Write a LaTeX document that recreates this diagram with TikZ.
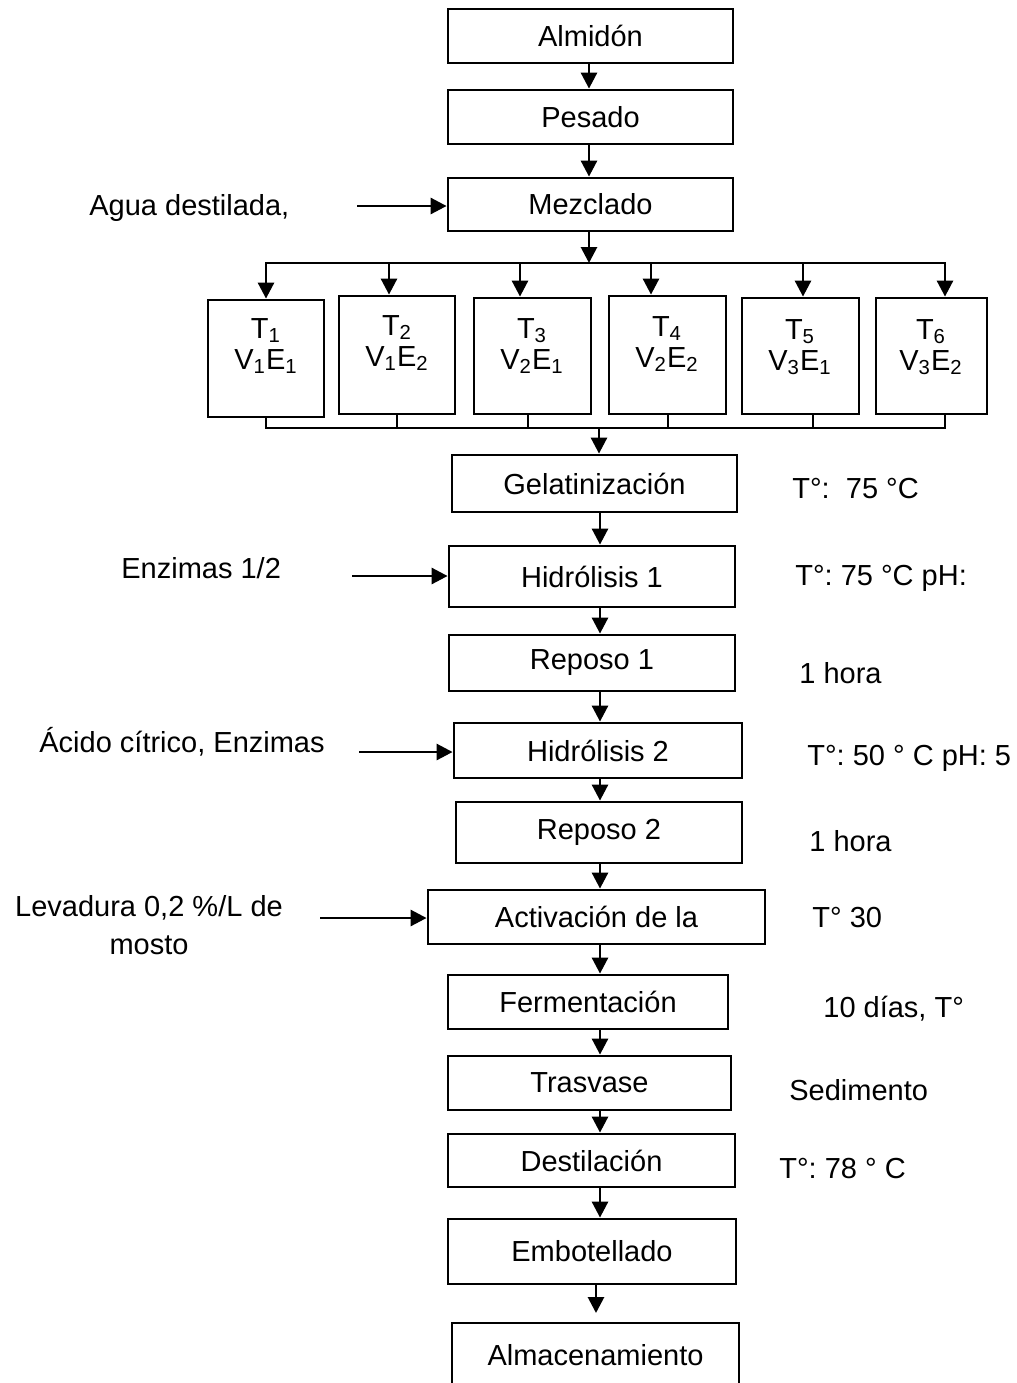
\documentclass[tikz,border=0pt]{standalone}
\usepackage{fontspec}
\setmainfont{Liberation Sans}
\usetikzlibrary{arrows.meta,calc}
\newcommand{\pbox}[6]{\node[proc, minimum width={(#4-#2)*0.5pt}, minimum height={(#5-#3)*0.5pt}] (#1) at ({(#2+#4)/2},{(#3+#5)/2}) {#6};}
\frenchspacing
\begin{document}
\frenchspacing
\begin{tikzpicture}[x=0.5pt,y=-0.5pt,
  every node/.style={font=\fontsize{14.5}{17}\selectfont\frenchspacing},
  proc/.style={draw, line width=1.4pt, inner sep=0pt, align=center},
  ttxt/.style={align=center, inner sep=0pt, font=\fontsize{14.5}{15.5}\selectfont},
  arr/.style={line width=1.4pt, -{Triangle[length=8pt,width=8pt]}},
  ln/.style={line width=1.4pt, line cap=rect},
  lbl/.style={anchor=base west, inner sep=0pt},
]
\fill[white] (0,0) rectangle (1017,1383);
\useasboundingbox (0,0) rectangle (1017,1383);
\clip (0,0) rectangle (1017,1383);

% main boxes
\pbox{alm}{448}{9}{733}{63}{Almidón}
\pbox{pes}{448}{90}{733}{144}{Pesado}
\pbox{mez}{448}{178}{733}{231}{Mezclado}

\pbox{t1}{208}{300}{324}{417}{}
\pbox{t2}{339}{296}{455}{414}{}
\pbox{t3}{474}{298}{591}{414}{}
\pbox{t4}{609}{296}{726}{414}{}
\pbox{t5}{742}{298}{859}{414}{}
\pbox{t6}{876}{298}{987}{414}{}
\node[ttxt] (t1l) at (266,346) {T\textsubscript{1}\\V\textsubscript{1}E\textsubscript{1}};
\node[ttxt] (t2l) at (397,343) {T\textsubscript{2}\\V\textsubscript{1}E\textsubscript{2}};
\node[ttxt] (t3l) at (532,346) {T\textsubscript{3}\\V\textsubscript{2}E\textsubscript{1}};
\node[ttxt] (t4l) at (667,344) {T\textsubscript{4}\\V\textsubscript{2}E\textsubscript{2}};
\node[ttxt] (t5l) at (800,347) {T\textsubscript{5}\\V\textsubscript{3}E\textsubscript{1}};
\node[ttxt] (t6l) at (931,347) {T\textsubscript{6}\\V\textsubscript{3}E\textsubscript{2}};

\pbox{gel}{452}{455}{737}{512}{Gelatinización}
\pbox{hid1}{449}{546}{735}{607}{Hidrólisis 1}
\pbox{rep1}{449}{635}{735}{691}{Reposo 1}
\pbox{hid2}{454}{723}{742}{778}{Hidrólisis 2}
\pbox{rep2}{456}{802}{742}{863}{Reposo 2}
\pbox{act}{428}{890}{765}{944}{Activación de la}
\pbox{fer}{448}{975}{728}{1029}{Fermentación}
\pbox{tra}{448}{1056}{731}{1110}{Trasvase}
\pbox{des}{448}{1134}{735}{1187}{Destilación}
\pbox{emb}{448}{1219}{736}{1284}{Embotellado}
\pbox{almac}{452}{1323}{739}{1387}{Almacenamiento}

% left labels and input arrows
\node[lbl] (agua) at (89,215) {Agua destilada,};
\coordinate (aguaS) at (357,206);
\draw[arr] (aguaS) -- (aguaS -| mez.west);

\node[lbl] (enz) at (121,578) {Enzimas 1/2};
\coordinate (enzS) at (352,576);
\draw[arr] (enzS) -- (enzS -| hid1.west);

\node[lbl] (acido) at (39,752) {Ácido cítrico, Enzimas};
\coordinate (acS) at (359,752);
\draw[arr] (acS) -- (acS -| hid2.west);

\node[align=center, inner sep=0pt] (lev) at (149,925.5) {Levadura 0,2 \%/L de\\[2pt]mosto};
\coordinate (levS) at (320,918);
\draw[arr] (levS) -- (levS -| act.west);

% right labels
\node[lbl] (r1) at (792,498) {T°:\ \ 75 °C};
\node[lbl] (r2) at (795,585) {T°: 75 °C pH:};
\node[lbl] (r3) at (799,683) {1 hora};
\node[lbl] (r4) at (807,765) {T°: 50 ° C pH: 5};
\node[lbl] (r5) at (809,851) {1 hora};
\node[lbl] (r6) at (812,927) {T° 30};
\node[lbl] (r7) at (823,1017) {10 días, T°};
\node[lbl] (r8) at (789,1100) {Sedimento};
\node[lbl] (r9) at (779,1178) {T°: 78 ° C};

% top arrows
\coordinate (tx) at (589,0);
\draw[arr] (alm.south -| tx) -- (pes.north -| tx);
\draw[arr] (pes.south -| tx) -- (mez.north -| tx);

% branch
\coordinate (bL) at (266,263);
\coordinate (bR) at (945,263);
\draw[arr] (mez.south -| tx) -- (bL -| tx);
\draw[ln] (bL) -- (bR);
\foreach \n/\x in {t1/266,t2/389,t3/520,t4/651,t5/803,t6/945}
  \draw[arr] (\x,263) -- (\x,263 |- \n.north);

% merge
\coordinate (mL) at (266,428);
\coordinate (mR) at (945,428);
\draw[ln] (mL) -- (mR);
\foreach \n/\x in {t1/266,t2/397,t3/528,t4/668,t5/813,t6/945}
  \draw[ln] (\x,428 |- \n.south) -- (\x,428);
\coordinate (mx) at (599,428);
\draw[arr] (mx) -- (mx |- gel.north);

% main flow
\coordinate (ax) at (600,0);
\foreach \a/\b in {gel/hid1,hid1/rep1,rep1/hid2,hid2/rep2,rep2/act,act/fer,fer/tra,tra/des,des/emb}
  \draw[arr] (\a.south -| ax) -- (\b.north -| ax);
\coordinate (almTop) at (596,1313);
\draw[arr] (emb.south -| almTop) -- (almTop);
\end{tikzpicture}
\end{document}
